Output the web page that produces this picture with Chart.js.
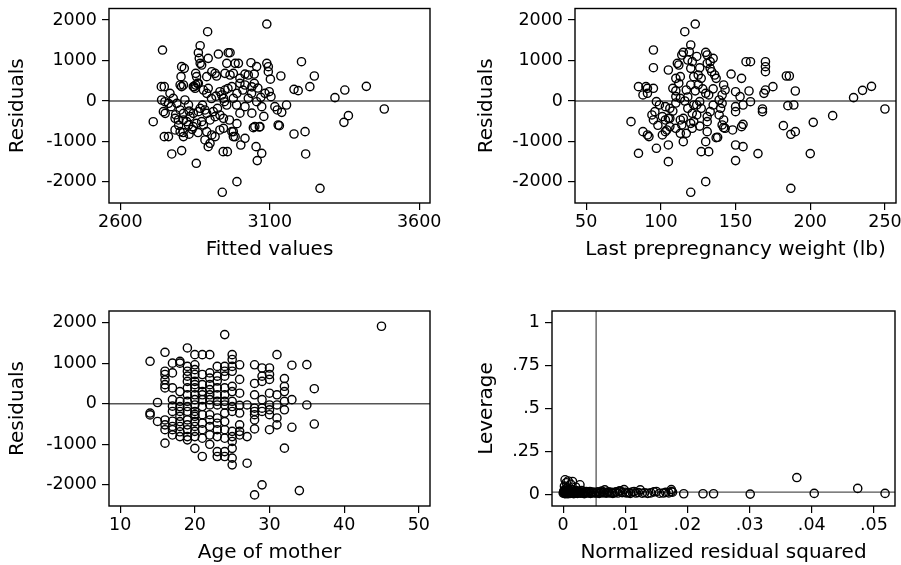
<!DOCTYPE html>
<html>
<head>
<meta charset="utf-8">
<script src="https://cdn.jsdelivr.net/npm/chart.js@4.4.1/dist/chart.umd.min.js"></script>
<style>
  html, body { margin: 0; padding: 0; background: #fff; }
  body { width: 901px; height: 565px; position: relative; overflow: hidden; }
  canvas { position: absolute; }
</style>
</head>
<body>
<canvas id="p1" width="450" height="283" style="left:0;top:0"></canvas>
<canvas id="p2" width="451" height="283" style="left:450px;top:0"></canvas>
<canvas id="p3" width="450" height="282" style="left:0;top:283px"></canvas>
<canvas id="p4" width="451" height="282" style="left:450px;top:283px"></canvas>
<script>
// residuals against fitted values
const residVsFitted = [
  [3090,1901],[2892,1712],[2741,1259],[2867,1366],[2737,354],[2747,354],[2710,-511],[2747,-881],
  [2772,-1309],[2805,-1226],[2854,-1539],[2941,-2255],[2990,-1992],[2944,-1251],[2958,-1251],
  [3003,-1087],[3054,-1128],[3073,-1292],[3058,-1473],[3045,-659],[3065,-642],[2978,-757],[2984,-881],
  [3125,-222],[3140,-280],[3128,-593],[3132,-609],[3090,930],[3095,847],
  [3206,971],[3137,617],[3249,617],[3234,354],[3181,288],[3195,255],[3318,82],[3351,271],[3423,362],
  [3483,-198],[3156,-99],[3181,-815],[3218,-757],[3220,-1309],[3268,-2157],[3348,-527],[3363,-362],
  [3095,724],[3102,540],[3098,230],[3104,107],
  [2861,1193],[2864,1053],[2867,930],[2872,888],[2894,1053],[2928,1160],[2961,1193],[2967,1193],
  [2956,930],[2984,930],[2995,930],[3037,946],[3056,850],[3017,666],[3048,666],
  [2805,848],[2814,806],[2803,601],[2800,395],[2852,683],[2855,601],[2889,601],[2906,724],[2917,683],
  [2922,617],[2950,683],[2967,642],[2978,683],[3000,436],[3017,395],[3028,642],[3048,436],[3040,350],
  [3084,189],[2844,354],[2850,313],[2861,436],[2894,313],[2889,189],
  [2933,230],[2939,148],[2945,66],[2948,-17],[2956,-99],[2950,271],[2973,354],[2978,66],[2989,-99],
  [3028,66],[3039,189],[3056,-17],[3073,-140],[3017,-140],[3117,-140],
  [2766,189],[2777,66],[2749,-17],[2761,-58],[2789,-58],[2816,25],[2828,-99],
  [2800,-222],[2811,-305],[2833,-387],[2844,-305],[2861,-263],[2867,-181],[2883,-222],[2889,-305],
  [2911,-263],[2917,-387],[2933,-346],[2945,-428],[2900,-469],
  [2783,-428],[2794,-469],[2811,-469],[2822,-510],[2828,-593],[2844,-634],[2855,-552],[2872,-510],[2878,-593],
  [2783,-716],[2800,-757],[2811,-880],[2761,-880],
  [2889,-757],[2906,-839],[2917,-880],[2883,-963],[2900,-1045],[2894,-1128],
  [2973,-757],[2978,-880],[3017,-922],[3050,-634],[3067,-634],[2933,-716],[2945,-675],
  [2805,354],[2811,395],[2847,354],[2852,395],[2858,436],[2878,271],[2738,25],[2744,-263],[2750,-305],
  [2770,-140],[2785,-340],[2795,-600],[2810,-780],[2830,-820],[2840,-700],[2860,-780],[2830,-250],
  [2875,-100],[2905,60],[2920,120],[2925,-180],[2960,310],[2990,190],[3000,560],[3010,270],
  [3060,320],[3070,90],[3080,-380],[3000,-300],[2965,-470],[2990,-560],[3040,-300]
];

// residuals against last prepregnancy weight
const residVsWeight = [
  [123,1901],[116,1712],[120,-2255],[130,-1992],[90,354],[92,-880],[137,-905],[117,-798],[120,-552],
  [95,1260],[95,823],[120,1383],[119,1218],[118,1013],[121,972],[120,807],[115,1202],[114,1136],
  [130,1202],[131,1136],[131,930],[133,972],[135,1054],[111,930],[112,889],[105,766],[110,560],
  [113,601],[112,437],[122,601],[125,642],[127,560],[134,724],[136,642],[137,560],[142,396],[143,272],
  [120,396],[117,272],[130,190],[132,149],[126,-16],[124,-98],[122,-98],[118,-180],[108,313],[110,108],
  [113,66],[97,-16],[99,-98],[96,-263],[103,-140],[106,-180],[85,354],[91,313],[95,313],[88,149],[91,190],
  [94,-345],[95,-469],[101,-386],[103,-469],[105,-428],[113,-469],[115,-428],[114,-592],[121,-304],
  [122,-510],[121,-674],[124,-345],[131,-386],[131,-510],[131,-757],[130,-1004],[133,-263],[140,-180],
  [139,-345],[141,-592],[143,-674],[80,-510],[88,-757],[91,-839],[97,-1168],[105,-1086],[101,-839],
  [103,-757],[106,-633],[110,-674],[113,-798],[115,-1004],[106,-428],[127,-1251],[132,-1251],[85,-1292],
  [105,-1498],[104,-716],[125,400],[128,300],[123,250],[118,100],[116,0],[110,-50],[108,-250],[127,-180],
  [135,-100],[135,300],[126,820],[124,1100],[110,250],[98,-600],[126,-620],
  [133,806],[141,148],[139,25],[141,-58],
  [147,666],[154,559],[157,971],[160,971],[170,971],[170,847],[170,724],[170,271],[169,189],[175,354],
  [184,617],[186,617],[190,247],[150,230],[153,107],[150,-140],[150,-263],[155,-99],[160,-17],[159,247],
  [168,-263],[168,-198],[185,-115],[189,-99],[142,-469],[142,-659],[148,-716],[154,-634],[155,-577],
  [138,-897],[150,-1087],[155,-1128],[150,-1473],[165,-1300],[182,-609],[187,-823],[190,-757],
  [200,-1300],[187,-2157],[202,-527],[215,-362],[229,82],[235,263],[241,362],[250,-198]
];

// residuals against age of mother
const residVsAge = [
  [14,1045],[14,-230],[14,-275],[15,30],[15,-436],
  [16,1267],[16,800],[16,720],[16,590],[16,470],[16,390],[16,-400],[16,-520],[16,-640],[16,-971],
  [17,1000],[17,760],[17,390],[17,100],[17,-60],[17,-190],[17,-430],[17,-560],[17,-640],[17,-770],
  [18,1045],[18,1000],[18,300],[18,60],[18,-70],[18,-190],[18,-310],[18,-440],[18,-560],[18,-690],[18,-810],
  [19,1374],[19,920],[19,800],[19,680],[19,550],[19,390],[19,220],[19,60],[19,-70],[19,-190],[19,-400],
  [19,-520],[19,-640],[19,-810],[19,-890],
  [20,1210],[20,960],[20,840],[20,720],[20,550],[20,470],[20,390],[20,220],[20,100],[20,-30],[20,-190],
  [20,-260],[20,-310],[20,-440],[20,-560],[20,-680],[20,-810],[20,-1100],
  [21,1210],[21,720],[21,470],[21,300],[21,220],[21,100],[21,-70],[21,-270],[21,-480],[21,-640],[21,-850],[21,-1300],
  [22,1210],[22,760],[22,630],[22,470],[22,350],[22,220],[22,100],[22,-30],[22,-270],[22,-400],[22,-560],[22,-770],[22,-1000],
  [23,920],[23,680],[23,560],[23,390],[23,220],[23,60],[23,-30],[23,-350],[23,-480],[23,-640],[23,-810],[23,-1180],[23,-1300],
  [24,1703],[24,920],[24,800],[24,680],[24,390],[24,220],[24,60],[24,-30],[24,-230],[24,-440],[24,-640],[24,-850],[24,-1180],[24,-1300],
  [25,1210],[25,1090],[25,920],[25,800],[25,430],[25,300],[25,60],[25,-70],[25,-190],[25,-680],[25,-810],
  [25,-930],[25,-1100],[25,-1340],[25,-1506],
  [26,960],[26,600],[26,260],[26,-40],[26,-230],[26,-520],[26,-680],[26,-770],
  [27,-30],[27,-810],[27,-1465],
  [28,960],[28,500],[28,220],[28,-110],[28,-190],[28,-270],[28,-400],[28,-620],[28,-2247],
  [29,880],[29,680],[29,550],[29,100],[29,-110],[29,-190],[29,-1999],
  [30,880],[30,720],[30,600],[30,260],[30,-30],[30,-150],[30,-270],[30,-640],
  [31,1210],[31,220],[31,-30],[31,-350],[31,-520],
  [32,620],[32,430],[32,300],[32,60],[32,-150],[32,-1095],
  [33,950],[33,100],[33,-580],[34,-2140],[35,963],[35,-30],[36,370],[36,-500],[45,1909]
];

// leverage against normalized residual squared
const leverageVsNrs = [
  [0.0194,0.006],[0.0225,0.006],[0.0242,0.006],[0.0301,0.004],[0.0376,0.100],[0.0404,0.008],
  [0.0474,0.037],[0.0518,0.008],
  [0.0003,0.087],[0.0008,0.080],[0.0015,0.077],[0.0005,0.070],[0.0027,0.058],[0.0012,0.062],
  [0.0002,0.050],[0.0006,0.040],[0.0020,0.045],
  [0.0000,0.010],[0.0001,0.015],[0.0001,0.021],[0.0002,0.008],[0.0002,0.027],[0.0003,0.012],
  [0.0003,0.018],[0.0004,0.006],[0.0004,0.032],[0.0005,0.011],[0.0005,0.022],[0.0006,0.009],
  [0.0006,0.016],[0.0007,0.013],[0.0007,0.026],[0.0008,0.007],[0.0008,0.019],[0.0009,0.011],
  [0.0010,0.015],[0.0010,0.024],[0.0011,0.008],[0.0012,0.012],[0.0012,0.018],[0.0013,0.030],
  [0.0014,0.010],[0.0015,0.014],[0.0016,0.021],[0.0017,0.007],[0.0018,0.012],[0.0019,0.017],
  [0.0020,0.010],[0.0021,0.025],[0.0022,0.013],[0.0023,0.008],[0.0024,0.016],[0.0025,0.011],
  [0.0026,0.020],[0.0028,0.009],[0.0029,0.014],[0.0030,0.025],[0.0031,0.010],[0.0033,0.015],
  [0.0034,0.007],[0.0036,0.012],[0.0037,0.019],[0.0039,0.010],[0.0041,0.014],[0.0043,0.019],
  [0.0044,0.008],[0.0046,0.012],[0.0048,0.016],[0.0050,0.010],[0.0052,0.013],[0.0054,0.010],
  [0.0056,0.018],[0.0058,0.008],[0.0060,0.013],[0.0062,0.021],[0.0064,0.011],[0.0066,0.015],
  [0.0067,0.029],[0.0069,0.009],[0.0071,0.013],[0.0073,0.018],[0.0075,0.010],[0.0078,0.014],
  [0.0080,0.008],[0.0083,0.012],[0.0085,0.017],[0.0088,0.010],[0.0090,0.021],[0.0092,0.023],
  [0.0095,0.012],[0.0098,0.030],[0.0100,0.015],[0.0102,0.010],[0.0105,0.013],[0.0108,0.008],
  [0.0111,0.016],[0.0114,0.019],[0.0117,0.010],[0.0121,0.013],[0.0124,0.029],[0.0127,0.009],
  [0.0131,0.012],[0.0136,0.008],[0.0141,0.011],[0.0146,0.017],[0.0150,0.019],[0.0155,0.009],
  [0.0161,0.010],[0.0165,0.014],[0.0170,0.011],[0.0174,0.019],[0.0174,0.030],[0.0176,0.015]
];

const fittedTicks = [2600, 3100, 3600];
const residTicks = [-2000, -1000, 0, 1000, 2000];
const weightTicks = [50, 100, 150, 200, 250];
const ageTicks = [10, 20, 30, 40, 50];
const nrsTicks = [0, 0.01, 0.02, 0.03, 0.04, 0.05];
const nrsLabels = ["0", ".01", ".02", ".03", ".04", ".05"];
const levTicks = [0, 0.25, 0.5, 0.75, 1];
const levLabels = ["0", ".25", ".5", ".75", "1"];

// reference lines: zero residual, mean normalized residual squared, mean leverage
const residRef = 0;
const meanNrs = 0.0053;
const meanLev = 0.0158;

const residRange = [-2520, 2285];
const fittedRange = [2562, 3636];
const weightRange = [42.5, 257.4];
const ageRange = [8.5, 51.5];
const nrsRange = [-0.0018, 0.0534];
const levRange = [-0.065, 1.065];

const FONT = "'DejaVu Sans', sans-serif";

const framePlugin = {
  id: "frame",
  afterDraw(chart) {
    const { ctx, chartArea: a } = chart;
    ctx.save();
    ctx.strokeStyle = "#000";
    ctx.lineWidth = 1.4;
    ctx.strokeRect(a.left, a.top, a.right - a.left, a.bottom - a.top);
    ctx.restore();
  },
};

function axis(range, ticks, labels, title, fitSize, horizontal) {
  return {
    type: "linear",
    min: range[0],
    max: range[1],
    afterBuildTicks: (s) => { s.ticks = ticks.map((v) => ({ value: v })); },
    afterFit: (s) => {
      if (horizontal) s.height = fitSize; else s.width = fitSize;
      s.paddingLeft = 0; s.paddingRight = 0; s.paddingTop = 0; s.paddingBottom = 0;
    },
    border: { display: false },
    grid: { drawOnChartArea: false, drawTicks: true, tickLength: 7, color: "#000", lineWidth: 1.2 },
    ticks: {
      autoSkip: false,
      maxRotation: 0,
      padding: horizontal ? 2 : 5,
      color: "#000",
      font: { family: FONT, size: 17.5 },
      callback: (v, i) => labels ? labels[i] : String(v),
    },
    title: {
      display: true,
      text: title,
      color: "#000",
      padding: 0,
      font: { family: FONT, size: 20 },
    },
  };
}

function refLine(points) {
  return {
    type: "line",
    data: points,
    borderColor: "#555",
    borderWidth: 1.3,
    pointRadius: 0,
    fill: false,
    order: 2,
  };
}

function panel(id, points, xAx, yAx, refs, padding) {
  new Chart(document.getElementById(id).getContext("2d"), {
    type: "scatter",
    data: {
      datasets: refs.map(refLine).concat([{
        data: points.map((p) => ({ x: p[0], y: p[1] })),
        pointStyle: "circle",
        pointRadius: 4.1,
        borderWidth: 1.4,
        borderColor: "#000",
        backgroundColor: "rgba(0,0,0,0)",
        order: 1,
      }]),
    },
    options: {
      responsive: false,
      animation: false,
      layout: { autoPadding: false, padding: padding },
      scales: { x: xAx, y: yAx },
      plugins: { legend: { display: false }, tooltip: { enabled: false } },
    },
    plugins: [framePlugin],
  });
}

panel("p1", residVsFitted,
  axis(fittedRange, fittedTicks, null, "Fitted values", 59, true),
  axis(residRange, residTicks, null, "Residuals", 103, false),
  [[{ x: fittedRange[0], y: residRef }, { x: fittedRange[1], y: residRef }]],
  { left: 6, top: 8.5, right: 20, bottom: 21 });

panel("p2", residVsWeight,
  axis(weightRange, weightTicks, null, "Last prepregnancy weight (lb)", 59, true),
  axis(residRange, residTicks, null, "Residuals", 100, false),
  [[{ x: weightRange[0], y: residRef }, { x: weightRange[1], y: residRef }]],
  { left: 25, top: 8.5, right: 5, bottom: 21 });

panel("p3", residVsAge,
  axis(ageRange, ageTicks, null, "Age of mother", 59, true),
  axis(residRange, residTicks, null, "Residuals", 103, false),
  [[{ x: ageRange[0], y: residRef }, { x: ageRange[1], y: residRef }]],
  { left: 6, top: 28, right: 20, bottom: 0 });

panel("p4", leverageVsNrs,
  axis(nrsRange, nrsTicks, nrsLabels, "Normalized residual squared", 59, true),
  axis(levRange, levTicks, levLabels, "Leverage", 77, false),
  [[{ x: nrsRange[0], y: meanLev }, { x: nrsRange[1], y: meanLev }],
   [{ x: meanNrs, y: levRange[0] }, { x: meanNrs, y: levRange[1] }]],
  { left: 25, top: 28, right: 6, bottom: 0 });
</script>
</body>
</html>
